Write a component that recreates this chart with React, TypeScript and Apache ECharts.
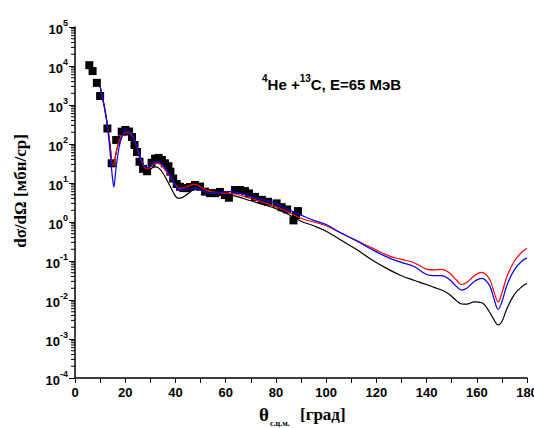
import React, { useEffect, useRef } from 'react';
import * as echarts from 'echarts';

// Experimental points (angle in degrees, cross-section mb/sr)
const expAngle = [5.7, 7.0, 8.7, 10.0, 12.9, 14.6, 16.4, 18.6, 20.1, 21.5, 22.7, 23.7, 24.7, 25.7, 27.1, 28.7, 30.5, 31.9, 33.3, 34.6, 35.8, 37.2, 38.0, 39.1, 40.5, 41.8, 43.1, 44.6, 45.8, 47.8, 49.8, 51.8, 53.8, 55.8, 57.7, 59.7, 61.3, 63.7, 65.7, 67.7, 69.3, 71.7, 74.4, 76.9, 80.3, 82.3, 84.5, 87.0, 88.0, 88.8];
const expValue = [10500, 7400, 3700, 1700, 250, 32, 127, 207, 229, 209, 151, 94, 62, 35, 23, 20, 33, 42, 44, 39, 32, 27, 19.5, 13, 9.4, 8.0, 7.4, 7.4, 7.9, 8.9, 8.1, 6.0, 5.5, 5.5, 5.9, 4.9, 4.2, 6.6, 6.6, 6.2, 5.4, 4.4, 3.7, 3.3, 3.0, 2.4, 2.1, 1.1, 1.5, 1.9];

// Calculated curves
const thAngle = [10, 11, 12, 13, 14, 15, 15.5, 16, 17, 18, 19, 20, 21, 22, 23, 24, 25, 26, 27, 28, 29, 30, 31, 32, 33, 34, 35, 36, 38, 40, 41, 42, 44, 46, 47, 48, 50, 52, 54, 56, 58, 60, 62, 65, 70, 75, 80, 85, 90, 95, 100, 106, 112, 118, 125, 130, 135, 140, 143, 146, 149, 152, 154, 156, 159, 162, 165, 167, 168.5, 170, 172, 175, 178, 180];
const blackCurve = [3000, 1500, 700, 280, 90, 28, 30, 45, 88, 135, 170, 185, 190, 175, 140, 100, 62, 40, 26, 21, 20, 22, 25, 26, 25, 22, 18, 14, 8, 4.6, 4.1, 4.1, 4.8, 6.0, 6.5, 6.8, 6.6, 6.0, 5.7, 5.5, 5.3, 5.1, 4.9, 4.4, 3.5, 2.8, 2.2, 1.55, 1.05, 0.8, 0.58, 0.34, 0.2, 0.11, 0.06, 0.042, 0.032, 0.025, 0.021, 0.018, 0.014, 0.0095, 0.0079, 0.0078, 0.009, 0.0085, 0.005, 0.003, 0.0023, 0.0028, 0.006, 0.014, 0.022, 0.027];
const redCurve = [3000, 1500, 700, 280, 90, 28, 30, 45, 90, 140, 175, 195, 200, 185, 150, 110, 70, 45, 30, 24, 23, 25, 29, 32, 32, 30, 26, 21, 14, 9, 7.6, 7.3, 7.8, 8.8, 9.2, 9.2, 8, 6.6, 6, 5.8, 5.6, 5.5, 5.4, 5.0, 4.0, 3.2, 2.5, 1.8, 1.25, 1.0, 0.8, 0.52, 0.34, 0.22, 0.135, 0.11, 0.09, 0.062, 0.059, 0.061, 0.05, 0.032, 0.025, 0.028, 0.042, 0.051, 0.035, 0.015, 0.009, 0.015, 0.04, 0.1, 0.17, 0.21];
const blueCurve = [3000, 1500, 700, 250, 60, 12, 8, 15, 50, 110, 170, 220, 225, 200, 160, 115, 75, 48, 32, 26, 25, 27, 31, 34, 35, 33, 29, 24, 15, 8.5, 7, 6.6, 6.8, 7.2, 7.3, 7.3, 6.8, 5.8, 5.5, 5.6, 5.8, 6.0, 6.0, 5.6, 4.5, 3.7, 3.0, 2.1, 1.5, 1.1, 0.86, 0.52, 0.33, 0.2, 0.12, 0.092, 0.072, 0.045, 0.042, 0.042, 0.034, 0.022, 0.018, 0.02, 0.03, 0.036, 0.024, 0.01, 0.0058, 0.009, 0.024, 0.06, 0.1, 0.12];

const yDecades = [-4, -3, -2, -1, 0, 1, 2, 3, 4];
const yMinorMultipliers = [2, 3, 4, 5, 6, 7, 8, 9];

const SANS = 'Arial, "Liberation Sans", sans-serif';
const SERIF = '"Times New Roman", "Liberation Serif", serif';

function zip(a: number[], b: number[]) {
  return a.map((v, i) => [v, b[i]]);
}

export default function App() {
  const ref = useRef<HTMLDivElement>(null);
  useEffect(() => {
    const chart = echarts.init(ref.current!, null, { renderer: 'svg' });
    const minorTicks: number[][] = [];
    yDecades.forEach((d) => yMinorMultipliers.forEach((m) => minorTicks.push([0, m * Math.pow(10, d)])));
    chart.setOption({
      animation: false,
      backgroundColor: '#fff',
      grid: { left: 75, right: 7, top: 27, bottom: 50, containLabel: false, outerBoundsMode: 'none' },
      xAxis: {
        type: 'value',
        min: 0,
        max: 180,
        interval: 10,
        splitLine: { show: false },
        axisLine: { lineStyle: { color: '#000', width: 1.5 } },
        axisTick: { length: 5, lineStyle: { color: '#000', width: 1 } },
        axisLabel: {
          margin: 8,
          color: '#000',
          fontFamily: SANS,
          fontWeight: 'bold',
          fontSize: 13,
          showMaxLabel: true,
          hideOverlap: false,
          formatter: (v: number) => (v % 20 === 0 ? String(v) : ''),
        },
      },
      yAxis: {
        type: 'log',
        logBase: 10,
        min: 1e-4,
        max: 1e5,
        splitNumber: 9,
        splitLine: { show: false },
        axisLine: { show: true, lineStyle: { color: '#000', width: 1.5 } },
        axisTick: { show: true, length: 6, lineStyle: { color: '#000', width: 1 } },
        axisLabel: {
          margin: 7,
          color: '#000',
          formatter: (v: number) => `{b|10}{e|${Math.round(Math.log10(v))}}`,
          rich: {
            b: { fontFamily: SANS, fontWeight: 'bold', fontSize: 13, color: '#000', padding: [4, 0, 0, 0] },
            e: { fontFamily: SANS, fontWeight: 'bold', fontSize: 9, color: '#000', verticalAlign: 'top' },
          },
        },
      },
      graphic: [
        {
          type: 'text',
          x: 20,
          y: 191,
          rotation: Math.PI / 2,
          style: {
            text: 'dσ/dΩ [мбн/ср]',
            fontFamily: SERIF,
            fontWeight: 'bold',
            fontSize: 17,
            fill: '#000',
            align: 'center',
            verticalAlign: 'middle',
          },
        },
        {
          type: 'text',
          x: 259,
          y: 405,
          style: { text: 'θ', fontFamily: SERIF, fontWeight: 'bold', fontSize: 19, fill: '#000' },
        },
        {
          type: 'text',
          x: 270,
          y: 419,
          style: { text: 'с.ц.м.', fontFamily: SERIF, fontWeight: 'bold', fontSize: 8, fill: '#000' },
        },
        {
          type: 'text',
          x: 300,
          y: 406,
          style: { text: '[град]', fontFamily: SERIF, fontWeight: 'bold', fontSize: 17, fill: '#000' },
        },
        {
          type: 'text',
          x: 262,
          y: 73,
          style: {
            text: '{s|4}{m|He +}{s|13}{m|C, E=65 МэВ}',
            rich: {
              m: { fontFamily: SANS, fontWeight: 'bold', fontSize: 15, fill: '#000', padding: [4, 0, 0, 0] },
              s: { fontFamily: SANS, fontWeight: 'bold', fontSize: 10, fill: '#000', verticalAlign: 'top' },
            },
          },
        },
      ],
      series: [
        {
          type: 'custom',
          clip: false,
          silent: true,
          data: minorTicks,
          renderItem: (params: any, api: any) => {
            const p = api.coord([api.value(0), api.value(1)]);
            return {
              type: 'line',
              shape: { x1: p[0] - 4, y1: p[1], x2: p[0], y2: p[1] },
              style: { stroke: '#000', lineWidth: 1 },
            };
          },
          z: 1,
        },
        {
          type: 'scatter',
          data: zip(expAngle, expValue),
          symbol: 'rect',
          symbolSize: 8,
          itemStyle: { color: '#000', opacity: 1 },
          z: 2,
        },
        {
          type: 'line',
          data: zip(thAngle, blackCurve),
          smooth: 0.4,
          showSymbol: false,
          lineStyle: { color: '#000', width: 1.2 },
          z: 3,
        },
        {
          type: 'line',
          data: zip(thAngle, redCurve),
          smooth: 0.4,
          showSymbol: false,
          lineStyle: { color: '#ff0000', width: 1.2 },
          z: 4,
        },
        {
          type: 'line',
          data: zip(thAngle, blueCurve),
          smooth: 0.4,
          showSymbol: false,
          lineStyle: { color: '#0000ff', width: 1.2 },
          z: 5,
        },
      ],
    });
    return () => chart.dispose();
  }, []);
  return (
    <div
      ref={ref}
      style={{ position: 'fixed', left: 0, top: 0, width: 534, height: 428, background: '#fff' }}
    />
  );
}
